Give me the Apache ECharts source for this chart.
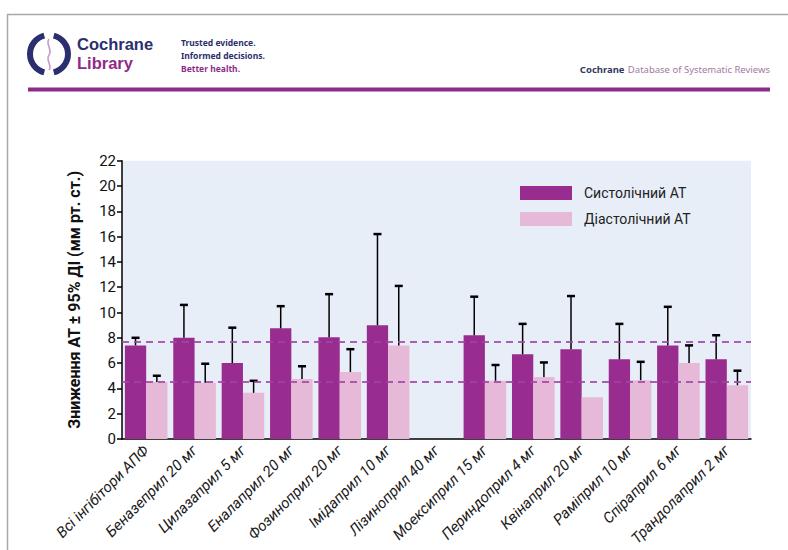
<!DOCTYPE html>
<html>
<head>
<meta charset="utf-8">
<script src="https://cdn.jsdelivr.net/npm/echarts@6/dist/echarts.min.js"></script>
<style>
  html, body { margin: 0; padding: 0; background: #ffffff; }
  #chart { width: 788px; height: 550px; }
</style>
</head>
<body>
<div id="chart"></div>
<script>
// ---- data ----
var categories = [
  'Всі інгібітори АПФ', 'Беназеприл 20 мг', 'Цилазаприл 5 мг', 'Еналаприл 20 мг',
  'Фозиноприл 20 мг', 'Імідаприл 10 мг', 'Лізиноприл 40 мг', 'Моексиприл 15 мг',
  'Периндоприл 4 мг', 'Квінаприл 20 мг', 'Раміприл 10 мг', 'Спіраприл 6 мг',
  'Трандолаприл 2 мг'
];
var systolic       = [7.4, 8.0, 6.0, 8.75, 8.05, 9.0, null, 8.2, 6.7, 7.1, 6.3, 7.4, 6.3];
var systolicUpper  = [8.0, 10.6, 8.8, 10.5, 11.45, 16.2, null, 11.25, 9.1, 11.3, 9.1, 10.45, 8.2];
var diastolic      = [4.5, 4.45, 3.65, 4.75, 5.3, 7.4, null, 4.6, 4.9, 3.3, 4.65, 6.0, 4.25];
var diastolicUpper = [5.0, 5.95, 4.6, 5.75, 7.1, 12.1, null, 5.85, 6.05, null, 6.1, 7.4, 5.4];
var referenceLines = [7.7, 4.5];
var yTicks = { min: 0, max: 22, interval: 2 };
var seriesNames = ['Систолічний АТ', 'Діастолічний АТ'];

// ---- styling ----
var SYS_COLOR = '#982c8f';
var DIA_COLOR = '#e6b9d8';
var CAT_GAP = 0.12;

function errorData(values, uppers) {
  var out = [];
  for (var i = 0; i < values.length; i++) {
    if (values[i] != null && uppers[i] != null) out.push([i, uppers[i], values[i]]);
  }
  return out;
}

function makeErrorRender(side) {
  return function (params, api) {
    var idx = api.value(0);
    var top = api.coord([idx, api.value(1)]);
    var base = api.coord([idx, api.value(2)]);
    var band = api.size([1, 0])[0];
    var barW = band * (1 - CAT_GAP) / 2;
    var x = top[0] + side * barW / 2;
    var capHalf = 4;
    return {
      type: 'group',
      children: [
        { type: 'line', shape: { x1: x, y1: base[1], x2: x, y2: top[1] },
          style: { stroke: '#000', lineWidth: 1.5 } },
        { type: 'line', shape: { x1: x - capHalf, y1: top[1], x2: x + capHalf, y2: top[1] },
          style: { stroke: '#000', lineWidth: 2.5 } }
      ]
    };
  };
}

var chart = echarts.init(document.getElementById('chart'), null, { renderer: 'svg' });

var option = {
  backgroundColor: '#ffffff',
  animation: false,
  textStyle: { fontFamily: 'Roboto' },
  grid: {
    left: 122, right: 37, top: 160.7, bottom: 111,
    show: true, backgroundColor: '#e8eef8', borderWidth: 0
  },
  legend: {
    orient: 'vertical',
    left: 520, top: 186,
    padding: 0,
    itemWidth: 52, itemHeight: 14, itemGap: 12,
    icon: 'rect',
    data: seriesNames,
    textStyle: { fontFamily: 'Roboto', fontSize: 14, color: '#222', padding: [0, 0, 0, 7] }
  },
  xAxis: {
    type: 'category',
    data: categories,
    axisLine: { lineStyle: { color: '#000', width: 1.5 } },
    axisTick: { alignWithLabel: true, length: 7, lineStyle: { color: '#000', width: 1.5 } },
    axisLabel: {
      rotate: 45, interval: 0, margin: 9,
      fontFamily: 'Roboto', fontStyle: 'italic', fontSize: 15, color: '#1a1a1a'
    },
    splitLine: { show: false }
  },
  yAxis: {
    type: 'value',
    min: yTicks.min, max: yTicks.max, interval: yTicks.interval,
    name: 'Зниження АТ ± 95% ДІ (мм рт. ст.)',
    nameLocation: 'middle',
    nameGap: 40,
    nameTextStyle: { fontFamily: 'Roboto', fontWeight: 'bold', fontSize: 16, color: '#111' },
    axisLine: { show: true, lineStyle: { color: '#000', width: 1.5 } },
    axisTick: { show: true, length: 5, lineStyle: { color: '#000', width: 1.5 } },
    axisLabel: { fontFamily: 'Roboto', fontSize: 15, color: '#111', margin: 6 },
    splitLine: { show: false }
  },
  series: [
    {
      name: 'ref',
      type: 'line',
      data: [],
      z: 1,
      silent: true,
      markLine: {
        symbol: 'none',
        silent: true,
        label: { show: false },
        lineStyle: { color: '#a045a3', type: [7, 5], width: 2, opacity: 0.85 },
        data: referenceLines.map(function (v) { return { yAxis: v }; })
      }
    },
    {
      name: seriesNames[0],
      type: 'bar',
      data: systolic,
      itemStyle: { color: SYS_COLOR },
      barGap: '0%',
      barCategoryGap: (CAT_GAP * 100) + '%',
      z: 3
    },
    {
      name: seriesNames[1],
      type: 'bar',
      data: diastolic,
      itemStyle: { color: DIA_COLOR },
      barGap: '0%',
      barCategoryGap: (CAT_GAP * 100) + '%',
      z: 3
    },
    {
      name: 'sysErr',
      type: 'custom',
      data: errorData(systolic, systolicUpper),
      renderItem: makeErrorRender(-1),
      encode: { x: 0, y: [1, 2] },
      z: 4, silent: true
    },
    {
      name: 'diaErr',
      type: 'custom',
      data: errorData(diastolic, diastolicUpper),
      renderItem: makeErrorRender(1),
      encode: { x: 0, y: [1, 2] },
      z: 4, silent: true
    }
  ],
  graphic: [
    // page frame
    { type: 'rect', shape: { x: 7.5, y: 14.5, width: 900, height: 700 },
      style: { fill: 'none', stroke: '#a8a8a8', lineWidth: 1.5 }, silent: true },
    // logo arcs
    { type: 'arc', shape: { cx: 49, cy: 54, r: 19, startAngle: Math.PI * 0.58, endAngle: Math.PI * 1.42, clockwise: true },
      style: { fill: 'none', stroke: '#2b2f6e', lineWidth: 6 } },
    { type: 'arc', shape: { cx: 49, cy: 54, r: 19, startAngle: -Math.PI * 0.42, endAngle: Math.PI * 0.42, clockwise: true },
      style: { fill: 'none', stroke: '#2b2f6e', lineWidth: 6 } },
    { type: 'bezierCurve', shape: { x1: 49, y1: 39, cpx1: 45, cpy1: 44, cpx2: 53, cpy2: 50, x2: 49, y2: 55 },
      style: { fill: 'none', stroke: '#c79ac5', lineWidth: 1.6 } },
    { type: 'bezierCurve', shape: { x1: 49, y1: 55, cpx1: 45, cpy1: 60, cpx2: 53, cpy2: 66, x2: 49, y2: 70 },
      style: { fill: 'none', stroke: '#c79ac5', lineWidth: 1.6 } },
    { type: 'text', left: 77, top: 35,
      style: { text: 'Cochrane', fill: '#2b2f6e', fontFamily: 'Liberation Sans', fontWeight: 'bold', fontSize: 16.5, lineHeight: 17 } },
    { type: 'text', left: 77, top: 54,
      style: { text: 'Library', fill: '#8e2b8a', fontFamily: 'Liberation Sans', fontWeight: 'bold', fontSize: 16.5, lineHeight: 17 } },
    { type: 'text', left: 181, top: 37,
      style: { text: 'Trusted evidence.', fill: '#2b2f6e', fontFamily: 'Noto Sans', fontWeight: 'bold', fontSize: 8.5, lineHeight: 11 } },
    { type: 'text', left: 181, top: 50,
      style: { text: 'Informed decisions.', fill: '#2b2f6e', fontFamily: 'Noto Sans', fontWeight: 'bold', fontSize: 8.5, lineHeight: 11 } },
    { type: 'text', left: 181, top: 63,
      style: { text: 'Better health.', fill: '#8e2b8a', fontFamily: 'Noto Sans', fontWeight: 'bold', fontSize: 8.5, lineHeight: 11 } },
    { type: 'text', right: 18, top: 63,
      style: { rich: {
          a: { fill: '#333a5e', fontFamily: 'Noto Sans', fontWeight: 'bold', fontSize: 9.5 },
          b: { fill: '#a27aa3', fontFamily: 'Noto Sans', fontSize: 9.5 }
        },
        text: '{a|Cochrane} {b|Database of Systematic Reviews}' } },
    { type: 'rect', shape: { x: 28, y: 87.5, width: 742, height: 4 },
      style: { fill: '#8a2d87' } }
  ]
};

chart.setOption(option);
</script>
</body>
</html>
